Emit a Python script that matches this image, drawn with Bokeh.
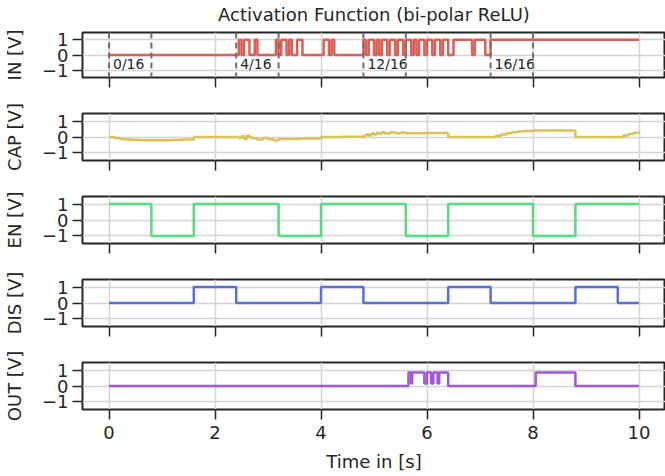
from bokeh.plotting import figure
from bokeh.layouts import column
from bokeh.models import Range1d, FixedTicker, Span, LinearAxis
from bokeh.embed import file_html
from bokeh.resources import INLINE
from bokeh.core.properties import value

# ---------------- data ----------------
title_text = "Activation Function (bi-polar ReLU)"
x_label = "Time in [s]"
x_ticks = [0, 2, 4, 6, 8, 10]
y_ticks = [-1, 0, 1]

# IN: input bit stream (step transitions)
in_t = [0.0, 2.45, 2.50, 2.55, 2.65, 2.75, 2.80, 3.15, 3.20, 3.25, 3.35, 3.40,
        3.45, 3.55, 3.65, 4.05, 4.15, 4.20, 4.25, 4.80, 4.85, 4.90, 5.00, 5.05,
        5.10, 5.15, 5.25, 5.30, 5.40, 5.45, 5.55, 5.60, 5.70, 5.75, 5.80, 5.85,
        5.95, 6.00, 6.10, 6.15, 6.25, 6.30, 6.40, 6.50, 6.85, 6.90, 7.10, 7.20, 10.0]
in_v = [0, 1, 0, 1, 0, 1, 0, 1, 0, 1, 0, 1,
        0, 1, 0, 1, 0, 1, 0, 1, 0, 1, 0, 1,
        0, 1, 0, 1, 0, 1, 0, 1, 0, 1, 0, 1,
        0, 1, 0, 1, 0, 1, 0, 1, 0, 1, 0, 1, 1]

# CAP: capacitor voltage (analog)
cap_t = [0.0, 0.1, 0.2, 0.3, 0.45, 0.6, 0.8, 1.0, 1.2, 1.4, 1.6, 1.6, 2.0, 2.4,
         2.45, 2.5, 2.55, 2.6, 2.65, 2.7, 2.8, 2.9, 3.0, 3.1, 3.2, 3.2, 3.6, 4.0,
         4.0, 4.4, 4.8, 4.85, 4.9, 4.95, 5.0, 5.05, 5.1, 5.15, 5.2, 5.3, 5.4, 5.5,
         5.6, 6.0, 6.4, 6.4, 7.2, 7.3, 7.4, 7.5, 7.6, 7.7, 7.8, 8.0, 8.4, 8.8, 8.8,
         9.6, 9.7, 9.8, 9.9, 10.0]
cap_v = [0.0, -0.07, -0.12, -0.16, -0.19, -0.21, -0.21, -0.2, -0.18, -0.16, -0.15, 0.0, 0.0, 0.0,
         -0.06, 0.04, -0.12, 0.08, -0.02, -0.08, -0.16, -0.06, -0.14, -0.2, -0.25, -0.12, -0.1, -0.1,
         0.0, 0.02, 0.05, 0.17, 0.1, 0.23, 0.15, 0.27, 0.18, 0.3, 0.22, 0.3, 0.24, 0.28,
         0.24, 0.25, 0.26, 0.0, 0.0, 0.08, 0.16, 0.24, 0.3, 0.34, 0.38, 0.4, 0.41, 0.41, 0.0,
         0.0, 0.1, 0.19, 0.27, 0.33]

# EN: enable signal
en_t = [0.0, 0.8, 1.6, 3.2, 4.0, 5.6, 6.4, 8.0, 8.8, 10.0]
en_v = [1, -1, 1, -1, 1, -1, 1, -1, 1, 1]

# DIS: discharge signal
dis_t = [0.0, 1.6, 2.4, 4.0, 4.8, 6.4, 7.2, 8.8, 9.6, 10.0]
dis_v = [0, 1, 0, 1, 0, 1, 0, 1, 0, 0]

# OUT: output
out_t = [0.0, 5.65, 5.70, 5.72, 5.95, 6.00, 6.08, 6.12, 6.20, 6.23, 6.40, 8.05, 8.80, 10.0]
out_v = [0, 0.85, 0.15, 0.85, 0.15, 0.85, 0.15, 0.85, 0.15, 0.85, 0, 0.85, 0, 0]

# IN panel markers
marker_t = [0.0, 0.8, 2.4, 3.2, 4.8, 5.6, 7.2, 8.0]
label_t = [0.0, 2.4, 4.8, 7.2]
label_txt = ["0/16", "4/16", "12/16", "16/16"]
label_y = -0.62

panels = [
    ("IN [V]", in_t, in_v, "#db5f57"),
    ("CAP [V]", cap_t, cap_v, "#dbc257"),
    ("EN [V]", en_t, en_v, "#57db80"),
    ("DIS [V]", dis_t, dis_v, "#5770db"),
    ("OUT [V]", out_t, out_v, "#a157db"),
]

# ---------------- styling ----------------
FONT = "DejaVu Sans"
DARK = "#262626"
W = 665

figs = []
for i, (ylab, xs, ys, col) in enumerate(panels):
    first = i == 0
    last = i == len(panels) - 1
    top = 30 if first else 12
    bottom = 67 if last else 24
    height = top + 47 + bottom
    p = figure(width=W, height=height,
               x_range=Range1d(-0.5, 10.5), y_range=Range1d(-1.47, 1.47),
               output_backend="svg", toolbar_location=None,
               min_border_left=80, min_border_right=0,
               min_border_top=top, min_border_bottom=bottom)
    p.background_fill_color = "white"
    p.border_fill_color = "white"
    p.outline_line_color = DARK
    p.outline_line_width = 2
    p.outline_line_alpha = 1

    xt = FixedTicker(ticks=x_ticks)
    yt = FixedTicker(ticks=y_ticks)
    p.xaxis.ticker = xt
    p.yaxis.ticker = yt
    p.xgrid.ticker = xt
    p.ygrid.ticker = yt
    for g in (p.xgrid, p.ygrid):
        g.grid_line_color = "#d4d4d4"
        g.grid_line_width = 1.5

    for ax in (p.xaxis, p.yaxis):
        ax.axis_line_color = None
        ax.major_tick_line_color = DARK
        ax.major_tick_line_width = 1.5
        ax.major_tick_out = 10
        ax.major_tick_in = 0
        ax.minor_tick_line_color = None
        ax.major_label_text_font = FONT
        ax.major_label_text_font_size = "18px"
        ax.major_label_text_color = DARK
        ax.axis_label_text_font = FONT
        ax.axis_label_text_font_size = "18px"
        ax.axis_label_text_font_style = "normal"
        ax.axis_label_text_color = DARK

    p.yaxis.major_label_overrides = {-1: "\u22121", 0: "0", 1: "1"}
    p.yaxis.major_label_standoff = 4
    p.yaxis.axis_label = ylab
    p.yaxis.axis_label_standoff = 14

    if last:
        p.xaxis.axis_label = x_label
        p.xaxis.major_label_standoff = 6
        p.xaxis.axis_label_standoff = 9
    else:
        # tick marks only: labels are not drawn
        p.xaxis.major_label_text_color = None
        p.xaxis.major_label_text_font_size = "8px"
        p.xaxis.major_label_standoff = 0

    if first:
        # chart title: label of a bare axis above the first frame
        tax = LinearAxis(ticker=FixedTicker(ticks=x_ticks), axis_label=title_text)
        tax.axis_line_color = None
        tax.major_tick_line_color = None
        tax.major_tick_out = 0
        tax.major_tick_in = 0
        tax.minor_tick_line_color = None
        tax.major_label_text_color = None
        tax.major_label_text_font_size = "0px"
        tax.major_label_standoff = 0
        tax.axis_label_standoff = 8
        tax.axis_label_text_font = FONT
        tax.axis_label_text_font_size = "18px"
        tax.axis_label_text_font_style = "normal"
        tax.axis_label_text_color = DARK
        p.add_layout(tax, "above")

        for t in marker_t:
            p.add_layout(Span(location=t, dimension="height", line_color="#707070",
                              line_width=2, line_dash="6 4"))
        p.text(x=label_t, y=[label_y] * len(label_t), text=label_txt,
               x_offset=4, text_font=value(FONT), text_font_size="14px",
               text_color=DARK, text_baseline="middle", text_align="left")

    p.step(xs, ys, mode="after", line_color=col, line_width=2.5)
    figs.append(p)

layout = column(*figs, spacing=0)
open("out.html", "w").write(file_html(layout, INLINE))
